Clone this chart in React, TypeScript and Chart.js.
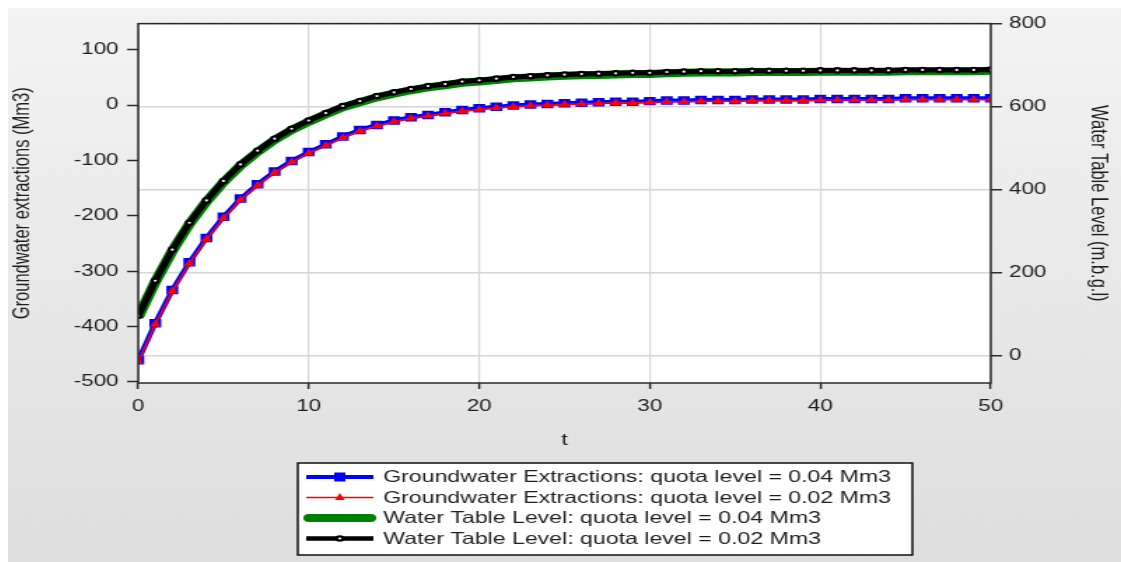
import React, { useEffect, useRef } from 'react';
import { Chart, registerables } from 'chart.js';

Chart.register(...registerables);

// ---- data ----
const T = [0, 1, 2, 3, 4, 5, 6, 7, 8, 9, 10, 11, 12, 13, 14, 15, 16, 17, 18, 19, 20, 21, 22, 23, 24, 25, 26, 27, 28, 29, 30, 31, 32, 33, 34, 35, 36, 37, 38, 39, 40, 41, 42, 43, 44, 45, 46, 47, 48, 49, 50];

const EXTRACTIONS_004 = [-461, -394, -334, -284, -240, -202, -169, -143, -120, -101, -85, -71, -57, -45, -36, -28, -22, -18, -13, -9, -6, -3, -1, 1, 2, 3, 4, 5, 6, 6, 7, 8, 8, 9, 9, 9, 10, 10, 10, 10, 11, 11, 11, 11, 11, 12, 12, 12, 12, 12, 12];
const EXTRACTIONS_002 = [-463, -396, -336, -286, -242, -204, -171, -145, -122, -103, -87, -73, -59, -47, -38, -30, -24, -20, -15, -11, -8, -5, -3, -1, 0, 1, 2, 3, 4, 4, 5, 6, 6, 7, 7, 7, 8, 8, 8, 8, 9, 9, 9, 9, 9, 10, 10, 10, 10, 10, 10];
const WATER_TABLE_004 = [92, 177, 252, 317, 371, 418, 458, 491, 520, 544, 564, 582, 599, 611, 623, 632, 640, 647, 652, 658, 661, 665, 669, 671, 673, 675, 676, 677, 678, 679, 679, 681, 682, 683, 683, 683, 684, 684, 684, 684, 685, 685, 685, 685, 685, 686, 686, 686, 686, 686, 687];
const WATER_TABLE_002 = [95, 180, 255, 320, 374, 421, 461, 494, 523, 547, 567, 585, 602, 614, 626, 635, 643, 650, 655, 661, 664, 668, 672, 674, 676, 678, 679, 680, 681, 682, 682, 684, 685, 686, 686, 686, 687, 687, 687, 687, 688, 688, 688, 688, 688, 689, 689, 689, 689, 689, 690];

const X_TICKS = [0, 10, 20, 30, 40, 50];
const LEFT_TICKS = [-500, -400, -300, -200, -100, 0, 100];
const RIGHT_TICKS = [0, 200, 400, 600, 800];

const SERIES_LABELS = [
  'Groundwater Extractions: quota level = 0.04 Mm3',
  'Groundwater Extractions: quota level = 0.02 Mm3',
  'Water Table Level: quota level = 0.04 Mm3',
  'Water Table Level: quota level = 0.02 Mm3',
];

const X_TITLE = 't';
const LEFT_TITLE = 'Groundwater extractions (Mm3)';
const RIGHT_TITLE = 'Water Table Level (m.b.g.l)';

// ---- presentation ----
const FONT = 'Arial, "Liberation Sans", sans-serif';
const CSS_W = 1113;
const CSS_H = 554;
const INT_W = 795; // internal canvas width, stretched horizontally to CSS_W
const TEXT = '#1e1e1e';
const BG_TOP = '#f3f3f3';
const BG_BOTTOM = '#dedede';

const toXY = (ys: number[]) => T.map((t, i) => ({ x: t, y: ys[i] }));

const bgPlugin = {
  id: 'bgPlugin',
  beforeDraw(chart: any) {
    const { ctx, height, chartArea } = chart;
    ctx.save();
    const g = ctx.createLinearGradient(0, 0, 0, height);
    g.addColorStop(0, BG_TOP);
    g.addColorStop(1, BG_BOTTOM);
    ctx.fillStyle = g;
    ctx.fillRect(-20, -20, 4000, 4000);
    ctx.fillStyle = '#ffffff';
    ctx.fillRect(chartArea.left, chartArea.top, chartArea.right - chartArea.left, chartArea.bottom - chartArea.top);
    ctx.restore();
  },
  afterDatasetsDraw(chart: any) {
    const { ctx, chartArea } = chart;
    ctx.save();
    ctx.strokeStyle = '#2a2a2a';
    ctx.lineWidth = 1.5;
    ctx.strokeRect(chartArea.left, chartArea.top, chartArea.right - chartArea.left, chartArea.bottom - chartArea.top);
    ctx.restore();
  },
};

const legendPlugin = {
  id: 'boxLegend',
  afterDraw(chart: any) {
    const { ctx } = chart;
    const x1 = 207, x2 = 646, y1 = 455, y2 = 547;
    const rows = [469, 489.5, 510, 530.5];
    const lx1 = 213, lx2 = 261, tx = 268;
    ctx.save();
    ctx.fillStyle = '#ffffff';
    ctx.fillRect(x1, y1, x2 - x1, y2 - y1);
    ctx.strokeStyle = '#111';
    ctx.lineWidth = 1.5;
    ctx.strokeRect(x1, y1, x2 - x1, y2 - y1);
    const ds = chart.data.datasets;
    const styles = [
      { color: '#0000ff', w: 4, marker: 'rect' },
      { color: '#ff0000', w: 1.5, marker: 'triangle' },
      { color: '#008000', w: 8, marker: 'none' },
      { color: '#000000', w: 4.5, marker: 'circle' },
    ];
    styles.forEach((s, i) => {
      const y = rows[i];
      ctx.beginPath();
      ctx.strokeStyle = s.color;
      ctx.lineWidth = s.w;
      ctx.lineCap = s.marker === 'none' ? 'round' : 'butt';
      ctx.moveTo(lx1 + (s.marker === 'none' ? 2 : 0), y);
      ctx.lineTo(lx2 - (s.marker === 'none' ? 2 : 0), y);
      ctx.stroke();
      const cx = (lx1 + lx2) / 2;
      if (s.marker === 'rect') {
        ctx.fillStyle = s.color;
        ctx.fillRect(cx - 4, y - 4.5, 8, 9);
      } else if (s.marker === 'triangle') {
        ctx.fillStyle = s.color;
        ctx.beginPath();
        ctx.moveTo(cx, y - 4.5);
        ctx.lineTo(cx + 3.5, y + 2.5);
        ctx.lineTo(cx - 3.5, y + 2.5);
        ctx.closePath();
        ctx.fill();
      } else if (s.marker === 'circle') {
        ctx.beginPath();
        ctx.arc(cx, y, 2.2, 0, Math.PI * 2);
        ctx.fillStyle = '#fff';
        ctx.fill();
        ctx.lineWidth = 2.2;
        ctx.strokeStyle = '#000';
        ctx.stroke();
      }
      ctx.fillStyle = TEXT;
      ctx.font = `16.5px ${FONT}`;
      ctx.textBaseline = 'middle';
      ctx.textAlign = 'left';
      ctx.fillText(ds[i].label, tx, y + 0.5);
    });
    ctx.restore();
  },
};

export default function App() {
  const ref = useRef<HTMLCanvasElement | null>(null);

  useEffect(() => {
    if (!ref.current) return;
    const tickFont = { family: FONT, size: 16 };
    const titleFont = { family: FONT, size: 16.5 };
    const chart = new Chart(ref.current, {
      type: 'line',
      data: {
        datasets: [
          {
            label: SERIES_LABELS[0],
            data: toXY(EXTRACTIONS_004),
            yAxisID: 'yL',
            borderColor: '#0000ff',
            backgroundColor: '#0000ff',
            borderWidth: 4,
            pointStyle: 'rect',
            pointRadius: 6,
            pointBorderWidth: 0,
            pointBackgroundColor: '#0000ff',
            order: 1,
          },
          {
            label: SERIES_LABELS[1],
            data: toXY(EXTRACTIONS_002),
            yAxisID: 'yL',
            borderColor: '#ff0000',
            backgroundColor: '#ff0000',
            borderWidth: 1.5,
            pointStyle: 'triangle',
            pointRadius: 4.5,
            pointBorderWidth: 0,
            pointBackgroundColor: '#ff0000',
            order: 0,
          },
          {
            label: SERIES_LABELS[2],
            data: toXY(WATER_TABLE_004),
            yAxisID: 'yR',
            borderColor: '#008000',
            backgroundColor: '#008000',
            borderWidth: 8,
            pointRadius: 0,
            order: 3,
          },
          {
            label: SERIES_LABELS[3],
            data: toXY(WATER_TABLE_002),
            yAxisID: 'yR',
            borderColor: '#000000',
            backgroundColor: '#ffffff',
            borderWidth: 5,
            pointStyle: 'circle',
            pointRadius: 2.2,
            pointBorderWidth: 2.2,
            pointBorderColor: '#000000',
            pointBackgroundColor: '#ffffff',
            order: 2,
          },
        ],
      },
      options: {
        responsive: false,
        animation: false,
        devicePixelRatio: 1,
        layout: { padding: { top: 15, left: 0, right: 0, bottom: 0 } },
        plugins: {
          legend: { display: false },
          tooltip: { enabled: false },
        },
        scales: {
          x: {
            type: 'linear',
            min: 0,
            max: 50,
            afterBuildTicks: (s: any) => { s.ticks = X_TICKS.map((v) => ({ value: v })); },
            afterFit: (s: any) => { s.height = 179; },
            grid: { color: '#d6d6d6', lineWidth: 1.2, drawTicks: true, tickLength: 6, tickColor: '#2a2a2a', tickWidth: 1.5 },
            border: { display: false },
            ticks: { font: tickFont, color: TEXT, padding: 8, maxRotation: 0, autoSkip: false },
            title: { display: true, text: X_TITLE, font: titleFont, color: TEXT, padding: { top: 0, bottom: 112 } },
          },
          yL: {
            type: 'linear',
            position: 'left',
            min: -502,
            max: 147,
            afterBuildTicks: (s: any) => { s.ticks = LEFT_TICKS.map((v) => ({ value: v })); },
            afterFit: (s: any) => { s.width = 93; },
            grid: { drawOnChartArea: false, drawTicks: true, tickLength: 8, tickColor: '#2a2a2a', tickWidth: 1.5 },
            border: { display: false },
            ticks: { font: tickFont, color: TEXT, padding: 6 },
            title: { display: true, text: LEFT_TITLE, font: titleFont, color: TEXT, padding: { top: 1, bottom: 0 } },
          },
          yR: {
            type: 'linear',
            position: 'right',
            min: -67,
            max: 801,
            afterBuildTicks: (s: any) => { s.ticks = RIGHT_TICKS.map((v) => ({ value: v })); },
            afterFit: (s: any) => { s.width = 93; },
            grid: { color: '#d6d6d6', lineWidth: 1.5, drawOnChartArea: true, drawTicks: true, tickLength: 8, tickColor: '#2a2a2a', tickWidth: 1.5 },
            border: { display: false },
            ticks: { font: tickFont, color: TEXT, padding: 5 },
            title: { display: true, text: RIGHT_TITLE, font: titleFont, color: TEXT, padding: { top: 7, bottom: 0 } },
          },
        },
      } as any,
      plugins: [bgPlugin, legendPlugin],
    });
    return () => chart.destroy();
  }, []);

  return (
    <div style={{ position: 'fixed', left: 0, top: 0, right: 0, bottom: 0, background: '#ffffff', overflow: 'hidden' }}>
      <div
        style={{
          position: 'absolute',
          left: 8,
          top: 8,
          right: 0,
          bottom: 0,
          background: `linear-gradient(${BG_TOP}, ${BG_BOTTOM})`,
          overflow: 'hidden',
        }}
      >
        <canvas
          ref={ref}
          width={INT_W}
          height={CSS_H}
          style={{ width: `${CSS_W}px`, height: `${CSS_H}px`, display: 'block' }}
        />
      </div>
    </div>
  );
}
